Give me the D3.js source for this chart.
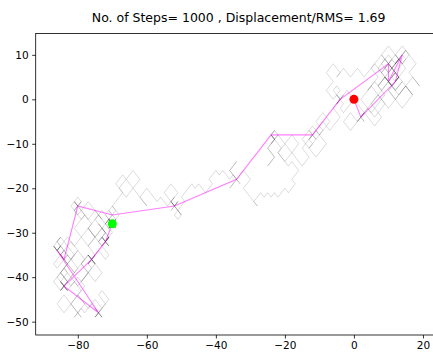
<!DOCTYPE html>
<html>
<head>
<meta charset="utf-8">
<script src="https://cdn.jsdelivr.net/npm/d3@7"></script>
<style>
  body { margin: 0; background: #fff; }
  text { font-family: "DejaVu Sans", sans-serif; }
</style>
</head>
<body>
<div class="chart"></div>
<script>
// Walk: one string per 50-step block, legs of diagonal moves
const walkBlocks = [
  "se3 sw2 nw2 sw2 se2 ne3 ne2 nw2 ne3 se2 sw3 se2 ne3 nw2 sw2 se3 sw2 nw3 sw2 ne1 ne1 sw1 se1 nw1",
  "ne2 se1 ne4 nw2 ne2 se3 ne2 sw2 nw3 ne2 se2 sw3 se2 ne3 se2 nw2 sw3 nw2 ne3 nw1 sw1 se1 ne1 sw1",
  "ne3 nw2 sw3 nw2 ne2 se2 ne3 se3 sw2 se3 nw2 sw2 nw3 ne2 nw2 ne2 se2 sw2 ne1 nw1 sw2 ne2 ne1 sw1",
  "sw3 se2 sw2 se2 ne2 se2 sw3 nw2 sw2 nw3 ne3 nw2 ne2 se3 sw2 nw2 sw2 ne2 se2 nw1 ne2 sw2 se1 nw1",
  "ne2 nw3 sw2 se3 sw2 nw2 sw2 ne3 nw2 ne3 se2 ne2 se2 nw2 nw2 sw2 se3 ne2 sw3 nw1 ne1 ne1 sw1 se1 nw1",
  "sw2 nw2 sw3 nw2 sw2 nw2 sw2 ne1 nw2 sw2 se2 sw2 se2 ne2 nw1 sw1 se3 sw1 se1 ne3 nw2 sw3 ne1 nw1 se1 sw1 ne1 ne1 sw1",
  "sw2 se2 sw3 nw2 sw2 se1 ne1 nw2 ne2 se2 sw3 se2 sw3 nw2 ne3 nw2 sw1 se1 nw1 sw2 se2 ne1 nw1 ne1 sw1 ne1 se1 nw1 ne1 sw1",
  "sw3 se2 sw2 nw3 ne2 nw2 sw2 se2 sw2 nw2 ne2 nw2 sw3 se2 sw2 ne2 nw2 ne3 nw1 sw1 se1 nw1 ne1 sw1 se1 sw1 ne1 nw1",
  "se3 sw1 se3 ne1 se2 sw2 se1 sw2 nw1 sw2 nw1 sw1 nw1 sw1 nw1 sw2 se1 nw1 nw3 ne2 nw2 sw2 nw2 ne2 sw2 se2 sw2 ne2 se1 nw1",
  "nw1 sw1 nw2 sw1 nw1 sw2 se1 sw2 nw2 sw1 nw1 sw3 se1 sw2 se1 sw1 nw1 ne1 se1 nw1 nw2 ne2 nw2 sw2 se2 ne1 sw1 se1 nw1 se1 ne1 sw1 sw1 ne1 se1 nw1 ne1 sw1",
  "nw1 sw1 nw2 sw1 nw3 sw2 se2 nw2 nw2 ne2 nw2 sw2 se2 sw2 nw2 ne2 nw1 sw2 se2 sw3 se2 sw2 nw2 ne2 se1 sw1 nw1 se1",
  "sw2 nw2 sw3 se2 sw2 nw2 ne3 nw2 sw1 nw2 ne2 nw1 sw2 se2 ne1 se2 ne2 se2 nw2 nw2 sw2 nw2 se1 sw1 ne1 nw1 se1 ne1 sw1",
  "se2 sw3 se2 sw2 nw2 sw2 se3 ne2 se2 sw3 nw2 ne2 nw2 ne1 se2 sw2 se2 sw2 nw2 ne2 nw2 sw1 se1 nw1 se1 ne1 sw1",
  "sw2 nw1 ne2 nw2 ne2 se2 sw2 se2 sw2 se2 nw2 sw2 se2 ne2 ne2 nw2 nw2 ne1 nw2 ne1 sw1 se1 sw1 ne1 sw1 nw1 se1 ne1 sw1 se1 nw1 nw1 se1",
  "se3 sw2 se3 ne2 se2 sw2 se2 sw2 nw2 ne2 se3 ne2 se2 ne1 nw2 ne1 se2 sw2 sw1 se1 nw1 sw1 ne1 ne1 sw1 nw1 se1 sw1 ne1 se1 nw1",
  "nw2 sw2 nw1 sw1 se1 nw1 sw1 ne1 nw2 sw2 nw2 ne2 se2 ne3 nw2 sw2 nw2 ne2 nw1 sw2 se2 sw1 ne1 nw1 se1 se1 nw1 ne1 sw1 sw1 ne1 nw1 se1 se1 nw1",
  "ne2 se2 ne3 nw2 ne2 se2 sw2 se2 ne2 nw2 nw2 sw2 se2 sw2 ne3 nw1 ne1 nw1 se1 ne1 sw1 se1 nw1 sw1 ne1 nw1 se1 ne1 sw1 se1 nw1 sw1 ne1",
  "ne2 se2 ne1 nw2 sw2 nw2 ne2 nw2 se2 ne2 se2 sw2 nw1 ne2 nw2 se2 sw2 ne1 se1 ne1 sw1 nw1 se1 se1 nw1 ne1 sw1 sw1 ne1 nw1 se1 ne1 sw1 se1 nw1",
  "ne2 nw2 ne1 nw2 sw2 se2 sw2 se2 ne2 nw2 ne1 se1 ne1 nw1 ne1 se1 sw1 nw1 sw1 ne1 se1 se1 nw1 sw1 ne1 nw1 se1 ne1 sw1 sw1 ne1 se1 nw1 nw1 se1 ne1 sw1 sw1 ne1 nw1 se1"
];

// Magenta line: position every 50 steps
const sampled = [
  [0, 0], [2, -4], [12, 4], [14, 10], [10, 4], [10, 8], [-4, 0], [-12, -8],
  [-24, -8], [-34, -18], [-52, -24], [-70, -26], [-80, -24], [-84, -36],
  [-86, -34], [-74, -48], [-84, -42], [-76, -36], [-72, -32], [-70, -28]
];

const startPt = [0, 0];
const endPt = [-70, -28];
const xTicks = [-80, -60, -40, -20, 0, 20];
const yTicks = [-50, -40, -30, -20, -10, 0, 10];
const titleText = "No. of Steps= 1000 , Displacement/RMS= 1.69";

const W = 433, H = 352;
const x = d3.scaleLinear().domain([-92.2, 25.4]).range([35.7, 441.6]);
const y = d3.scaleLinear().domain([-53, 14.8]).range([335, 33.5]);

const svg = d3.select(".chart").append("svg")
    .attr("width", W)
    .attr("height", H);

svg.append("clipPath").attr("id", "plot")
  .append("rect")
    .attr("x", x.range()[0]).attr("y", y.range()[1])
    .attr("width", x.range()[1] - x.range()[0])
    .attr("height", y.range()[0] - y.range()[1]);

// turn the leg strings into step segments
const dirs = {ne: [1, 1], se: [1, -1], sw: [-1, -1], nw: [-1, 1]};
const segs = [];
let pos = startPt.slice();
walkBlocks.forEach(block => {
  block.split(" ").forEach(leg => {
    const d = dirs[leg.slice(0, 2)];
    const n = +leg.slice(2);
    for (let i = 0; i < n; i++) {
      const next = [pos[0] + d[0], pos[1] + d[1]];
      segs.push([pos, next]);
      pos = next;
    }
  });
});

const g = svg.append("g").attr("clip-path", "url(#plot)");

// gray walk, one segment per step so overlaps darken
g.selectAll(".step")
  .data(segs)
  .join("line")
    .attr("class", "step")
    .attr("x1", d => x(d[0][0]))
    .attr("y1", d => y(d[0][1]))
    .attr("x2", d => x(d[1][0]))
    .attr("y2", d => y(d[1][1]))
    .attr("stroke", "#000")
    .attr("stroke-opacity", 0.14)
    .attr("stroke-width", 1);

const line = d3.line().x(d => x(d[0])).y(d => y(d[1]));

g.append("path")
    .datum(sampled)
    .attr("fill", "none")
    .attr("stroke", "#ff00ff")
    .attr("stroke-opacity", 0.5)
    .attr("stroke-width", 1.1)
    .attr("d", line);

g.append("circle")
    .attr("cx", x(startPt[0])).attr("cy", y(startPt[1]))
    .attr("r", 4.5).attr("fill", "#ff0000");

g.append("circle")
    .attr("cx", x(endPt[0])).attr("cy", y(endPt[1]))
    .attr("r", 4.5).attr("fill", "#00ff00");

// frame
svg.append("rect")
    .attr("x", x.range()[0]).attr("y", y.range()[1])
    .attr("width", x.range()[1] - x.range()[0])
    .attr("height", y.range()[0] - y.range()[1])
    .attr("fill", "none")
    .attr("stroke", "#000")
    .attr("stroke-width", 0.8);

const fmt = d => d < 0 ? "\u2212" + Math.abs(d) : d;

const xAxis = svg.append("g")
    .attr("transform", "translate(0," + y.range()[0] + ")")
    .call(d3.axisBottom(x).tickValues(xTicks).tickFormat(fmt).tickSize(3.5).tickPadding(3.5));

const yAxis = svg.append("g")
    .attr("transform", "translate(" + x.range()[0] + ",0)")
    .call(d3.axisLeft(y).tickValues(yTicks).tickFormat(fmt).tickSize(3.5).tickPadding(3.5));

[xAxis, yAxis].forEach(a => {
  a.select(".domain").remove();
  a.selectAll("line").attr("stroke", "#000").attr("stroke-width", 0.8);
  a.selectAll("text").attr("fill", "#000").style("font-size", "10.5px")
    .style("font-family", "DejaVu Sans");
});

svg.append("text")
    .attr("x", (x.range()[0] + x.range()[1]) / 2)
    .attr("y", 22)
    .attr("text-anchor", "middle")
    .style("font-size", "12.5px")
    .text(titleText);
</script>
</body>
</html>
